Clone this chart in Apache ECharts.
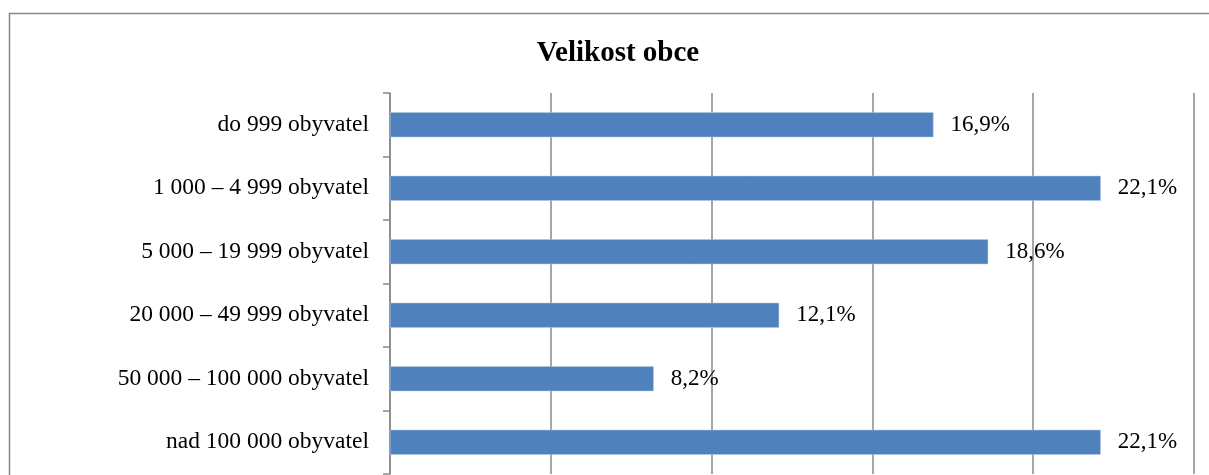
<!DOCTYPE html>
<html>
<head>
<meta charset="utf-8">
<script src="https://cdn.jsdelivr.net/npm/echarts@6/dist/echarts.min.js"></script>
<style>
html,body{margin:0;padding:0;background:#fff;}
#c{width:1209px;height:475px;}
</style>
</head>
<body>
<div id="c"></div>
<script>
const titleText = 'Velikost obce';
const categories = ['do 999 obyvatel', '1 000 – 4 999 obyvatel', '5 000 – 19 999 obyvatel', '20 000 – 49 999 obyvatel', '50 000 – 100 000 obyvatel', 'nad 100 000 obyvatel'];
const values = [16.9, 22.1, 18.6, 12.1, 8.2, 22.1];

const chart = echarts.init(document.getElementById('c'));
const serif = '"Liberation Serif", "Times New Roman", serif';
chart.setOption({
  animation: false,
  backgroundColor: '#fff',
  title: {
    text: titleText,
    left: 613, top: 34, textAlign: 'center',
    textStyle: {fontFamily: serif, fontSize: 29, fontWeight: 'bold', color: '#000'}
  },
  graphic: [{
    type: 'rect', silent: true,
    shape: {x: 9.5, y: 13.5, width: 1220, height: 500},
    style: {fill: 'none', stroke: '#888', lineWidth: 1.5}
  }],
  grid: {left: 390, right: 15, top: 93, bottom: 1, containLabel: false},
  xAxis: {
    type: 'value', min: 0, max: 25, interval: 5,
    axisLabel: {show: false},
    axisLine: {show: false}, axisTick: {show: false},
    splitLine: {show: true, lineStyle: {color: '#898989', width: 1.5}}
  },
  yAxis: {
    type: 'category', data: categories, inverse: true,
    axisLine: {show: true, lineStyle: {color: '#898989', width: 1.5}},
    axisTick: {show: true, length: 7, lineStyle: {color: '#898989', width: 1.5}},
    axisLabel: {margin: 21, fontFamily: serif, fontSize: 23.5, color: '#000'}
  },
  series: [{
    type: 'bar', data: values, barWidth: 25,
    itemStyle: {color: '#4F81BD', borderColor: '#b9cde5', borderWidth: 0.5},
    label: {
      show: true, position: 'right', distance: 17,
      fontFamily: serif, fontSize: 23, color: '#000',
      formatter: p => p.value.toFixed(1).replace('.', ',') + '%'
    }
  }]
});
</script>
</body>
</html>
